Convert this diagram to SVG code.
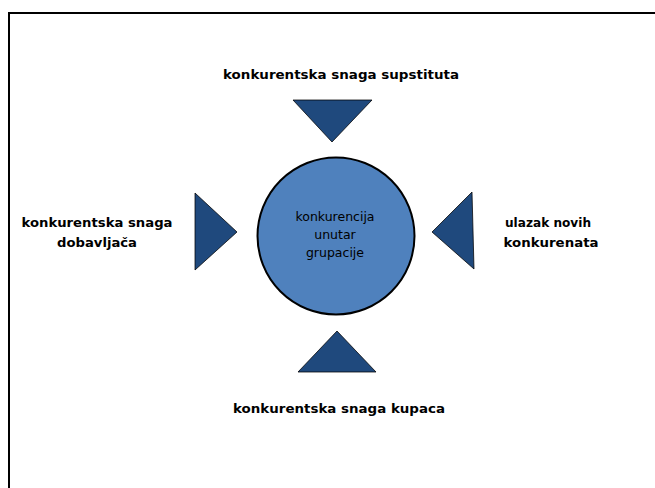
<svg xmlns="http://www.w3.org/2000/svg" width="655" height="488" viewBox="0 0 655 488">
<style>
.lbl{font-family:"DejaVu Sans","Liberation Sans",sans-serif;font-weight:bold;font-size:12.5px;fill:#000;text-anchor:middle}
.in{font-family:"DejaVu Sans","Liberation Sans",sans-serif;font-size:12.5px;fill:#000;text-anchor:middle}
.tri{fill:#1F497D;stroke:#000;stroke-width:0.75}
</style>
<rect width="655" height="488" fill="#fff"/>
<path d="M9 488 V13 H655" fill="none" stroke="#000" stroke-width="2"/>
<g id="center">
<circle cx="336" cy="236" r="78.5" fill="#4F81BD" stroke="#000" stroke-width="2"/>
<text class="in" x="335" y="221">konkurencija</text>
<text class="in" x="335" y="239">unutar</text>
<text class="in" x="335" y="257">grupacije</text>
</g>
<g id="connectors">
<polygon class="tri" points="293,100 372,100 332,142"/>
<polygon class="tri" points="195,193 195,270 237,232"/>
<polygon class="tri" points="472,192 474,269 432,232"/>
<polygon class="tri" points="337,331 376,372 298,372"/>
</g>
<g id="top">
<text class="lbl" x="341" y="79" textLength="236" lengthAdjust="spacingAndGlyphs">konkurentska snaga supstituta</text>
</g>
<g id="left">
<text class="lbl" x="97" y="227" textLength="151" lengthAdjust="spacingAndGlyphs">konkurentska snaga</text>
<text class="lbl" x="97" y="247" textLength="80" lengthAdjust="spacingAndGlyphs">dobavljača</text>
</g>
<g id="right">
<text class="lbl" x="548" y="227" textLength="86" lengthAdjust="spacingAndGlyphs">ulazak novih</text>
<text class="lbl" x="551" y="247" textLength="95" lengthAdjust="spacingAndGlyphs">konkurenata</text>
</g>
<g id="bottom">
<text class="lbl" x="339" y="413" textLength="212" lengthAdjust="spacingAndGlyphs">konkurentska snaga kupaca</text>
</g>
</svg>
